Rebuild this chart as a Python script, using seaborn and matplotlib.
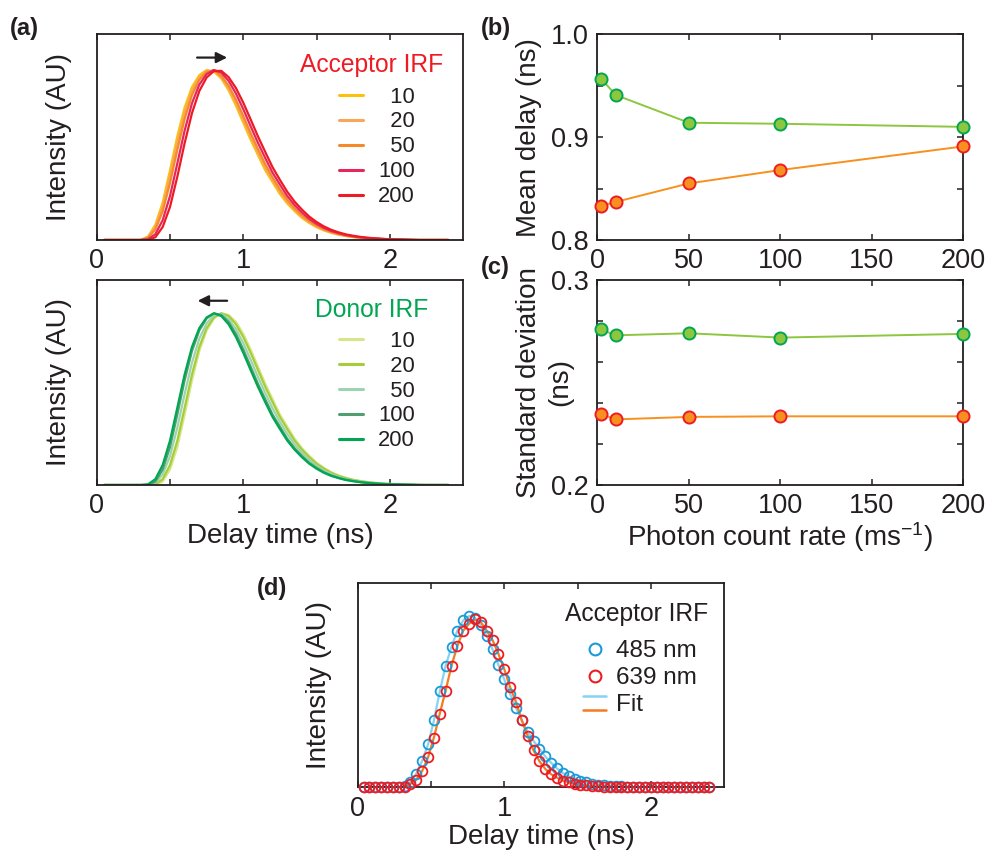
import pandas as pd
import seaborn as sns
import matplotlib.pyplot as plt
from matplotlib.lines import Line2D
from matplotlib.legend_handler import HandlerBase

# ---------------- data ----------------
RATE_LABELS = ['10', '20', '50', '100', '200']

# panel (a): normalised IRF curves, sampled every 0.05 ns
TIME_A = [0.05, 0.10, 0.15, 0.20, 0.25, 0.30, 0.35, 0.40, 0.45, 0.50, 0.55, 0.60,
          0.65, 0.70, 0.75, 0.80, 0.85, 0.90, 0.95, 1.00, 1.05, 1.10, 1.15, 1.20,
          1.25, 1.30, 1.35, 1.40, 1.45, 1.50, 1.55, 1.60, 1.65, 1.70, 1.75, 1.80,
          1.85, 1.90, 1.95, 2.00, 2.05, 2.10, 2.15, 2.20, 2.25, 2.30, 2.35, 2.40]

ACC_10 = [0, 0, 0, 0, 0, 0, 0.020, 0.090, 0.220, 0.410, 0.610, 0.780,
          0.900, 0.970, 1.000, 0.990, 0.950, 0.880, 0.790, 0.690, 0.590, 0.500, 0.410, 0.340,
          0.270, 0.215, 0.170, 0.130, 0.100, 0.075, 0.056, 0.042, 0.031, 0.023, 0.017, 0.012,
          0.009, 0.006, 0.004, 0.003, 0.002, 0.001, 0, 0, 0, 0, 0, 0]
ACC_20 = [0, 0, 0, 0, 0, 0, 0.016, 0.076, 0.194, 0.372, 0.570, 0.746,
          0.876, 0.956, 0.994, 0.995, 0.958, 0.894, 0.808, 0.710, 0.610, 0.518, 0.428, 0.354,
          0.284, 0.226, 0.179, 0.138, 0.106, 0.080, 0.060, 0.045, 0.033, 0.025, 0.018, 0.013,
          0.010, 0.007, 0.004, 0.003, 0.002, 0.001, 0, 0, 0, 0, 0, 0]
ACC_50 = [0, 0, 0, 0, 0, 0, 0.012, 0.062, 0.168, 0.334, 0.530, 0.712,
          0.852, 0.942, 0.988, 0.998, 0.966, 0.908, 0.826, 0.730, 0.630, 0.536, 0.446, 0.368,
          0.298, 0.237, 0.188, 0.146, 0.112, 0.085, 0.064, 0.048, 0.035, 0.026, 0.019, 0.014,
          0.010, 0.007, 0.005, 0.003, 0.002, 0.001, 0, 0, 0, 0, 0, 0]
ACC_100 = [0, 0, 0, 0, 0, 0, 0.004, 0.034, 0.116, 0.258, 0.450, 0.644,
           0.804, 0.914, 0.976, 1.000, 0.984, 0.936, 0.862, 0.770, 0.670, 0.572, 0.482, 0.396,
           0.326, 0.259, 0.206, 0.162, 0.124, 0.095, 0.071, 0.053, 0.040, 0.029, 0.022, 0.016,
           0.012, 0.008, 0.006, 0.004, 0.003, 0.002, 0.001, 0, 0, 0, 0, 0]
ACC_200 = [0, 0, 0, 0, 0, 0, 0, 0.016, 0.076, 0.194, 0.372, 0.570,
           0.746, 0.876, 0.956, 0.994, 0.995, 0.958, 0.894, 0.808, 0.710, 0.610, 0.518, 0.428,
           0.354, 0.284, 0.226, 0.179, 0.138, 0.106, 0.080, 0.060, 0.045, 0.033, 0.025, 0.018,
           0.013, 0.010, 0.007, 0.004, 0.003, 0.002, 0.001, 0, 0, 0, 0, 0]

DON_10 = [0, 0, 0, 0, 0, 0, 0, 0, 0.020, 0.090, 0.220, 0.410,
          0.610, 0.780, 0.900, 0.970, 1.000, 0.990, 0.950, 0.880, 0.790, 0.690, 0.590, 0.500,
          0.410, 0.340, 0.270, 0.215, 0.170, 0.130, 0.100, 0.075, 0.056, 0.042, 0.031, 0.023,
          0.017, 0.012, 0.009, 0.006, 0.004, 0.003, 0.002, 0.001, 0, 0, 0, 0]
DON_20 = [0, 0, 0, 0, 0, 0, 0, 0.004, 0.034, 0.116, 0.258, 0.450,
          0.644, 0.804, 0.914, 0.976, 1.000, 0.984, 0.936, 0.862, 0.770, 0.670, 0.572, 0.482,
          0.396, 0.326, 0.259, 0.206, 0.162, 0.124, 0.095, 0.071, 0.053, 0.040, 0.029, 0.022,
          0.016, 0.012, 0.008, 0.006, 0.004, 0.003, 0.002, 0.001, 0, 0, 0, 0]
DON_50 = [0, 0, 0, 0, 0, 0, 0, 0.012, 0.062, 0.168, 0.334, 0.530,
          0.712, 0.852, 0.942, 0.988, 0.998, 0.966, 0.908, 0.826, 0.730, 0.630, 0.536, 0.446,
          0.368, 0.298, 0.237, 0.188, 0.146, 0.112, 0.085, 0.064, 0.048, 0.035, 0.026, 0.019,
          0.014, 0.010, 0.007, 0.005, 0.003, 0.002, 0.001, 0, 0, 0, 0, 0]
DON_100 = [0, 0, 0, 0, 0, 0, 0, 0.020, 0.090, 0.220, 0.410, 0.610,
           0.780, 0.900, 0.970, 1.000, 0.990, 0.950, 0.880, 0.790, 0.690, 0.590, 0.500, 0.410,
           0.340, 0.270, 0.215, 0.170, 0.130, 0.100, 0.075, 0.056, 0.042, 0.031, 0.023, 0.017,
           0.012, 0.009, 0.006, 0.004, 0.003, 0.002, 0.001, 0, 0, 0, 0, 0]
DON_200 = [0, 0, 0, 0, 0, 0, 0.004, 0.034, 0.116, 0.258, 0.450, 0.644,
           0.804, 0.914, 0.976, 1.000, 0.984, 0.936, 0.862, 0.770, 0.670, 0.572, 0.482, 0.396,
           0.326, 0.259, 0.206, 0.162, 0.124, 0.095, 0.071, 0.053, 0.040, 0.029, 0.022, 0.016,
           0.012, 0.008, 0.006, 0.004, 0.003, 0.002, 0.001, 0, 0, 0, 0, 0]

# panels (b) and (c)
RATE_X = [2, 10, 50, 100, 200]
DON_MEAN = [0.957, 0.941, 0.914, 0.913, 0.910]
ACC_MEAN = [0.833, 0.837, 0.855, 0.868, 0.891]
DON_SD = [0.2759, 0.2730, 0.2740, 0.2719, 0.2737]
ACC_SD = [0.2346, 0.2320, 0.2332, 0.2335, 0.2335]

# panel (d): acceptor IRF at two wavelengths, sampled every 0.04 ns
TIME_D = [0.04, 0.08, 0.12, 0.16, 0.20, 0.24, 0.28, 0.32, 0.36, 0.40, 0.44, 0.48,
          0.52, 0.56, 0.60, 0.64, 0.68, 0.72, 0.76, 0.80, 0.84, 0.88, 0.92, 0.96,
          1.00, 1.04, 1.08, 1.12, 1.16, 1.20, 1.24, 1.28, 1.32, 1.36, 1.40, 1.44,
          1.48, 1.52, 1.56, 1.60, 1.64, 1.68, 1.72, 1.76, 1.80, 1.84, 1.88, 1.92,
          1.96, 2.00, 2.04, 2.08, 2.12, 2.16, 2.20, 2.24, 2.28, 2.32, 2.36, 2.40]
IRF_485 = [0, 0, 0, 0, 0, 0, 0.002, 0.008, 0.030, 0.080, 0.155, 0.250,
           0.390, 0.560, 0.710, 0.820, 0.915, 0.975, 1.000, 0.990, 0.945, 0.885, 0.805, 0.715,
           0.630, 0.545, 0.465, 0.390, 0.325, 0.270, 0.225, 0.180, 0.143, 0.110, 0.083, 0.063,
           0.048, 0.037, 0.028, 0.021, 0.016, 0.012, 0.009, 0.007, 0.005, 0.004, 0.003, 0.002,
           0.002, 0.001, 0.001, 0.001, 0, 0, 0, 0, 0, 0, 0, 0]
IRF_639 = [0, 0, 0, 0, 0, 0, 0, 0.003, 0.020, 0.045, 0.095, 0.175,
           0.290, 0.430, 0.565, 0.710, 0.825, 0.915, 0.955, 0.980, 0.965, 0.915, 0.860, 0.780,
           0.690, 0.585, 0.500, 0.390, 0.300, 0.215, 0.152, 0.107, 0.076, 0.056, 0.039, 0.028,
           0.020, 0.015, 0.011, 0.008, 0.006, 0.004, 0.003, 0.002, 0.002, 0.001, 0.001, 0,
           0, 0, 0, 0, 0, 0, 0, 0, 0, 0, 0, 0]

# ---------------- styling ----------------
INK = '#231f20'
ACC_COLORS = ['#fcc10f', '#f9a65a', '#f58a2a', '#e8265e', '#ed1c24']
DON_COLORS = ['#d6e68a', '#a5cd39', '#9bd4ae', '#4f9f72', '#00a651']
ACC_RED = '#ed1c24'
DON_GREEN = '#00a651'
LIME = '#8dc63f'
ORANGE = '#f7901e'
BLUE = '#1a9bd7'
FIT_BLUE = '#86d3f2'
FIT_ORANGE = '#f47b20'

sns.set_theme(style='ticks')
plt.rcParams['font.family'] = ['Liberation Sans', 'DejaVu Sans']
plt.rcParams['mathtext.default'] = 'regular'
plt.rcParams['text.color'] = INK
plt.rcParams['axes.labelcolor'] = INK
plt.rcParams['xtick.color'] = INK
plt.rcParams['ytick.color'] = INK

TICK_FS = 19.5
LABEL_FS = 20
LEG_FS = 15.8
TITLE_FS = 17.7


def style_axes(ax, show_y=True):
    for sp in ax.spines.values():
        sp.set_visible(True)
        sp.set_linewidth(1.3)
        sp.set_color(INK)
    ax.tick_params(direction='in', top=True, right=show_y, left=show_y,
                   labelleft=show_y, length=4.5, width=1.1, labelsize=TICK_FS, pad=6)


def long_df(curves):
    frames = [pd.DataFrame({'time': TIME_A, 'intensity': c, 'rate': r})
              for c, r in zip(curves, RATE_LABELS)]
    return pd.concat(frames, ignore_index=True)


class FitPair:
    def __init__(self, top, bottom):
        self.top = top
        self.bottom = bottom


class StackedLines(HandlerBase):
    def create_artists(self, legend, orig_handle, xdescent, ydescent,
                       width, height, fontsize, trans):
        y0 = height / 2 - ydescent
        off = 0.42 * height
        out = []
        for c, dy in [(orig_handle.top, off), (orig_handle.bottom, -off)]:
            ln = Line2D([-xdescent, -xdescent + width], [y0 + dy, y0 + dy], color=c, lw=1.8)
            ln.set_transform(trans)
            out.append(ln)
        return out


rate_text = ['\u200710', '\u200720', '\u200750', '100', '200']

fig = plt.figure(figsize=(9.89, 8.51), dpi=100)
ax_a1 = fig.add_axes([0.0978, 0.7180, 0.3704, 0.2417])
ax_a2 = fig.add_axes([0.0978, 0.4301, 0.3704, 0.2409])
ax_b = fig.add_axes([0.6040, 0.7180, 0.3701, 0.2417])
ax_c = fig.add_axes([0.6040, 0.4301, 0.3701, 0.2409])
ax_d = fig.add_axes([0.3617, 0.0749, 0.3704, 0.2404])

# ---- (a) acceptor / donor IRFs ----
panels_a = [(ax_a1, [ACC_10, ACC_20, ACC_50, ACC_100, ACC_200], ACC_COLORS,
             'Acceptor IRF', ACC_RED, 1.21, (0.666, 0.909), 0.851, 0.746),
            (ax_a2, [DON_10, DON_20, DON_50, DON_100, DON_200], DON_COLORS,
             'Donor IRF', DON_GREEN, 1.194, (0.909, 0.670), 0.854, 0.753)]
for ax, curves, colors, title, tcol, ytop, (x_from, x_to), ty, ly in panels_a:
    sns.lineplot(data=long_df(curves), x='time', y='intensity', hue='rate',
                 hue_order=RATE_LABELS, palette=colors, lw=1.6, legend=False,
                 estimator=None, sort=False, ax=ax)
    ax.set_xlim(0, 2.5)
    ax.set_ylim(0, ytop)
    ax.set_xticks([0, 0.5, 1, 1.5, 2])
    ax.set_xticklabels(['0', '', '1', '', '2'])
    ax.set_yticks([])
    style_axes(ax, show_y=False)
    ax.set_xlabel('')
    ax.set_ylabel('Intensity (AU)', fontsize=LABEL_FS)
    ax.yaxis.set_label_coords(-0.067, 0.5)
    ax.annotate('', xy=(x_to, 1.073), xytext=(x_from, 1.073),
                arrowprops=dict(arrowstyle='-|>', color=INK, lw=1.6, mutation_scale=16))
    ax.text(0.750, ty, title, transform=ax.transAxes, color=tcol,
            fontsize=TITLE_FS, ha='center', va='center')
    handles = [Line2D([], [], color=c, lw=2.2) for c in colors]
    ax.legend(handles, rate_text, loc='upper left', bbox_to_anchor=(0.6615, ly),
              frameon=False, fontsize=LEG_FS, handlelength=1.09, handletextpad=0.68,
              labelspacing=0.18, borderpad=0, borderaxespad=0)
ax_a2.set_xlabel('Delay time (ns)', fontsize=LABEL_FS)
ax_a2.xaxis.set_label_coords(0.5, -0.185)

# ---- (b) mean delay, (c) standard deviation ----
for ax, don, acc in [(ax_b, DON_MEAN, ACC_MEAN), (ax_c, DON_SD, ACC_SD)]:
    sns.lineplot(x=RATE_X, y=don, ax=ax, color=LIME, lw=1.4, marker='o',
                 markersize=8.7, markerfacecolor=LIME, markeredgecolor=DON_GREEN,
                 markeredgewidth=1.4, clip_on=False, zorder=3)
    sns.lineplot(x=RATE_X, y=acc, ax=ax, color=ORANGE, lw=1.4, marker='o',
                 markersize=8.7, markerfacecolor=ORANGE, markeredgecolor=ACC_RED,
                 markeredgewidth=1.4, clip_on=False, zorder=3)
    ax.set_xlim(0, 200)
    ax.set_xticks([0, 50, 100, 150, 200])
    style_axes(ax)

ax_b.set_ylim(0.8, 1.0)
ax_b.set_yticks([0.8, 0.85, 0.9, 0.95, 1.0])
ax_b.set_yticklabels(['0.8', '', '0.9', '', '1.0'])
ax_b.set_ylabel('Mean delay (ns)', fontsize=LABEL_FS)
ax_b.yaxis.set_label_coords(-0.151, 0.5)

ax_c.set_ylim(0.2, 0.3)
ax_c.set_yticks([0.2, 0.22, 0.24, 0.26, 0.28, 0.3])
ax_c.set_yticklabels(['0.2', '', '', '', '', '0.3'])
ax_c.set_ylabel('Standard deviation', fontsize=LABEL_FS)
ax_c.yaxis.set_label_coords(-0.150, 0.5)
ax_c.text(-0.1005, 0.5, '(ns)', transform=ax_c.transAxes, rotation=90,
          fontsize=LABEL_FS, ha='center', va='center')
ax_c.set_xlabel('Photon count rate (ms$^{-1}$)', fontsize=LABEL_FS)
ax_c.xaxis.set_label_coords(0.5, -0.17)

# ---- (d) acceptor IRF at 485 / 639 nm ----
sns.lineplot(x=TIME_D, y=IRF_485, ax=ax_d, color=FIT_BLUE, lw=1.6, zorder=2)
sns.lineplot(x=TIME_D, y=IRF_639, ax=ax_d, color=FIT_ORANGE, lw=1.6, zorder=2)
for y, c in [(IRF_485, BLUE), (IRF_639, ACC_RED)]:
    sns.lineplot(x=TIME_D, y=y, ax=ax_d, linestyle='none', marker='o', markersize=7,
                 markerfacecolor='none', markeredgecolor=c, markeredgewidth=1.3,
                 clip_on=False, zorder=3)
ax_d.set_xlim(0, 2.5)
ax_d.set_ylim(0, 1.195)
ax_d.set_xticks([0, 0.5, 1, 1.5, 2])
ax_d.set_xticklabels(['0', '', '1', '', '2'])
ax_d.set_yticks([])
style_axes(ax_d, show_y=False)
ax_d.set_ylabel('Intensity (AU)', fontsize=LABEL_FS)
ax_d.yaxis.set_label_coords(-0.071, 0.5)
ax_d.set_xlabel('Delay time (ns)', fontsize=LABEL_FS)
ax_d.xaxis.set_label_coords(0.5, -0.181)

ax_d.text(0.7625, 0.847, 'Acceptor IRF', transform=ax_d.transAxes,
          fontsize=TITLE_FS, ha='center', va='center')
d_handles = [Line2D([], [], linestyle='none', marker='o', markersize=8.5,
                    markerfacecolor='none', markeredgecolor=BLUE, markeredgewidth=1.5),
             Line2D([], [], linestyle='none', marker='o', markersize=8.5,
                    markerfacecolor='none', markeredgecolor=ACC_RED, markeredgewidth=1.5),
             FitPair(FIT_BLUE, FIT_ORANGE)]
ax_d.legend(d_handles, ['485 nm', '639 nm', 'Fit'], loc='upper left',
            bbox_to_anchor=(0.615, 0.7175), frameon=False, fontsize=17.5,
            handlelength=0.95, handletextpad=0.4, labelspacing=0.2,
            borderpad=0, borderaxespad=0, handler_map={FitPair: StackedLines()})

# ---- panel letters ----
for x, y, s in [(0.0101, 0.967, '(a)'), (0.4863, 0.967, '(b)'),
                (0.4863, 0.686, '(c)'), (0.2599, 0.308, '(d)')]:
    fig.text(x, y, s, fontsize=17, fontweight='bold', va='center', ha='left')

fig.savefig('out.png', dpi=100)
